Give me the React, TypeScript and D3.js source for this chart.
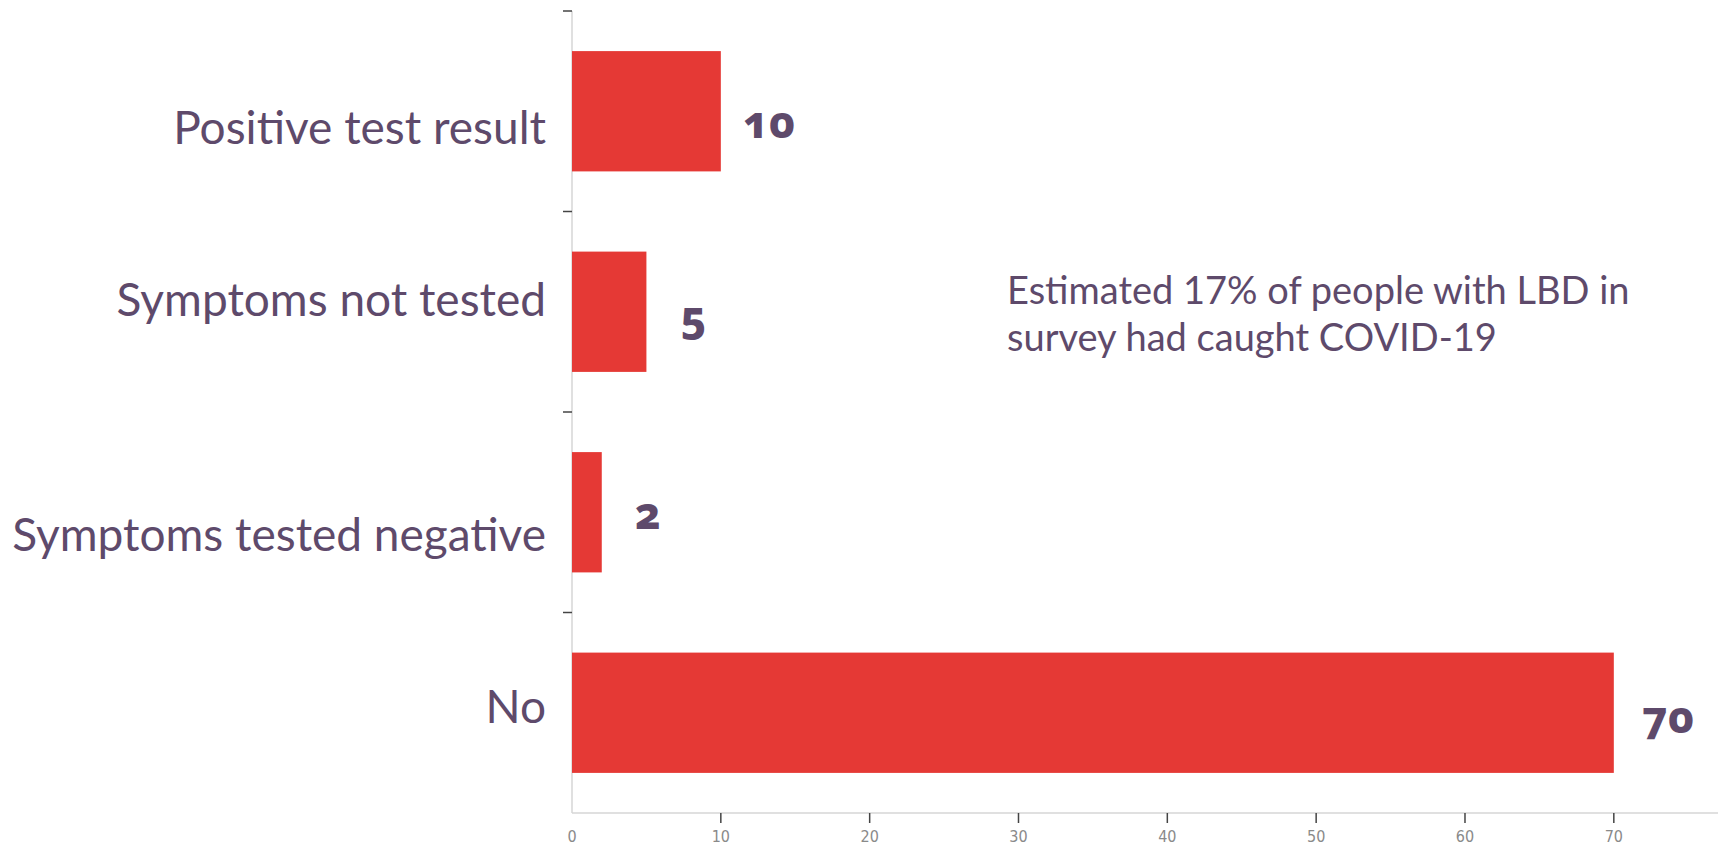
import React from "react";
import * as d3 from "d3";

const categories = [
  "Positive test result",
  "Symptoms not tested",
  "Symptoms tested negative",
  "No",
];
const values = [10, 5, 2, 70];
const xTicks = [0, 10, 20, 30, 40, 50, 60, 70];
const noteLines = [
  "Estimated 17% of people with LBD in",
  "survey had caught COVID-19",
];

// Hand-placed nudges (px) for the text layers, measured from each bar
const categoryBaselineShift = [33, 4, 39, 10];
const valueBaselineShift = [27, 21, 17, 20];
const valueGap = [22, 34, 33, 28];

const W = 1723;
const H = 849;
const PURPLE = "#5e4a6b";
const RED = "#e53935";

export default function App() {
  const x = d3.scaleLinear().domain([0, 77]).range([572, 1718]);
  const y = d3
    .scaleBand<string>()
    .domain(categories)
    .range([11, 813])
    .paddingInner(0.4)
    .paddingOuter(0.2);
  const [y0, y1] = y.range();
  const boundaries = d3.range(categories.length).map((i) => y0 + i * y.step());
  const mid = (c: string) => (y(c) ?? 0) + y.bandwidth() / 2;

  return (
    <svg
      width={W}
      height={H}
      style={{ position: "absolute", left: 0, top: 0, background: "#fff" }}
    >
      {/* axis lines */}
      <line x1={x(0)} x2={x(0)} y1={y0} y2={y1} stroke="#d6d6d6" strokeWidth={1.5} />
      <line x1={x(0)} x2={x.range()[1]} y1={y1} y2={y1} stroke="#d6d6d6" strokeWidth={1.5} />

      {/* category boundary ticks */}
      {boundaries.map((b, i) => (
        <line key={i} x1={x(0) - 9} x2={x(0)} y1={b} y2={b} stroke="#444" strokeWidth={1.5} />
      ))}

      {/* value axis ticks */}
      {xTicks.map((t) => (
        <g key={t} transform={`translate(${x(t)},0)`}>
          {t > 0 && <line y1={y1} y2={y1 + 10} stroke="#444" strokeWidth={1.5} />}
          <text
            y={y1 + 24}
            textAnchor="middle"
            dominantBaseline="middle"
            fontFamily="'DejaVu Sans Condensed', 'DejaVu Sans', sans-serif"
            fontSize={16}
            fill="#8a8a8a"
          >
            {t}
          </text>
        </g>
      ))}

      {/* bars */}
      {categories.map((c, i) => (
        <rect
          key={c}
          x={x(0)}
          y={y(c)}
          width={x(values[i]) - x(0)}
          height={y.bandwidth()}
          fill={RED}
        />
      ))}

      {/* category labels */}
      {categories.map((c, i) => (
        <text
          key={c}
          x={546}
          y={mid(c) + categoryBaselineShift[i]}
          textAnchor="end"
          fontFamily="Lato, 'Noto Sans', sans-serif"
          fontSize={46}
          fill={PURPLE}
        >
          {c}
        </text>
      ))}

      {/* value labels */}
      {categories.map((c, i) => (
        <text
          key={c}
          x={x(values[i]) + valueGap[i]}
          y={mid(c) + valueBaselineShift[i]}
          fontFamily="'Noto Sans', Lato, sans-serif"
          fontWeight={800}
          fontSize={44}
          fill={PURPLE}
          style={{ fontFeatureSettings: "'onum' 1", fontVariantNumeric: "oldstyle-nums" }}
        >
          {values[i]}
        </text>
      ))}

      {/* annotation */}
      <text fontFamily="Lato, 'Noto Sans', sans-serif" fontSize={38} fill={PURPLE}>
        {noteLines.map((l, i) => (
          <tspan key={i} x={1007} y={304 + i * 47}>
            {l}
          </tspan>
        ))}
      </text>
    </svg>
  );
}
